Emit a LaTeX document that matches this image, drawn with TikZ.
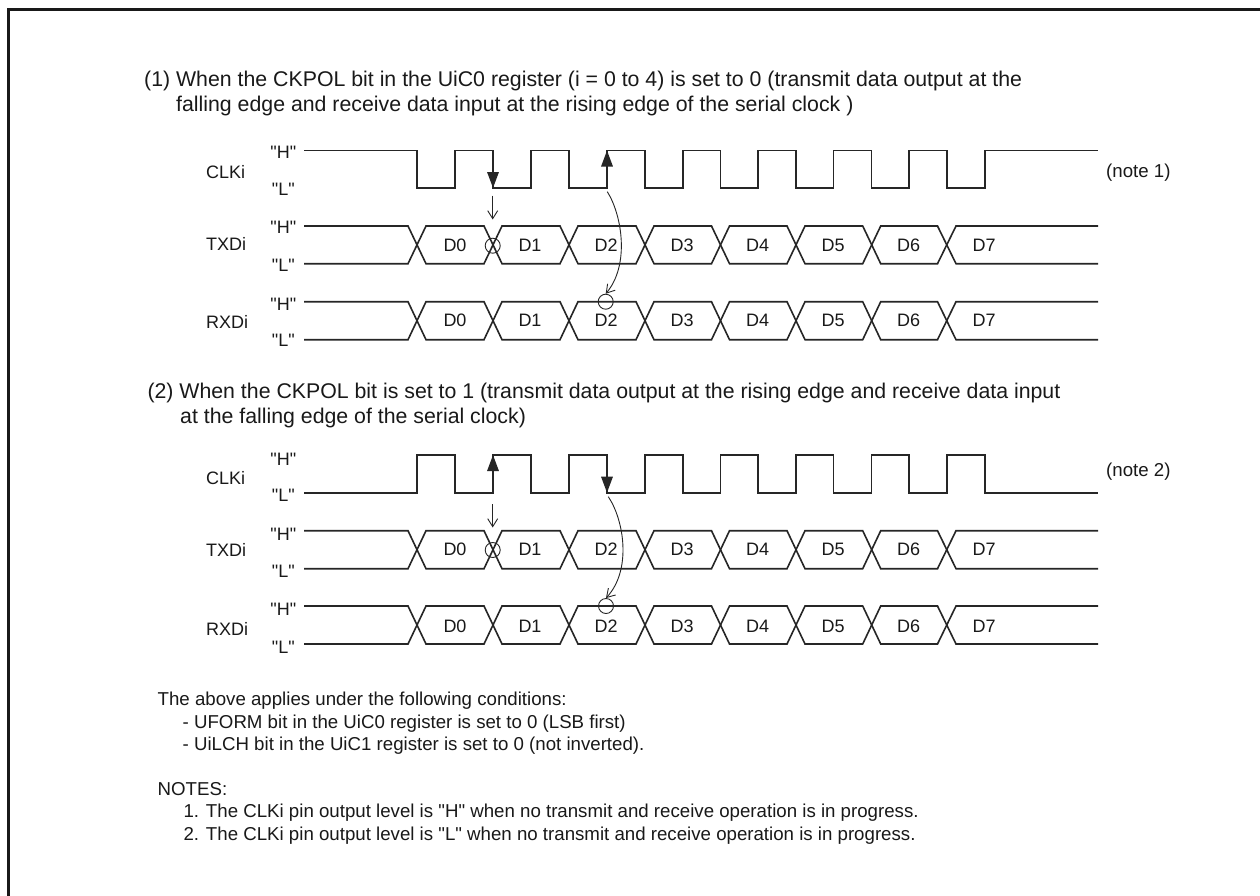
\documentclass[tikz,border=0pt]{standalone}
\usepackage{fontspec}
\newfontfamily\libf{Liberation Sans}
\usetikzlibrary{arrows.meta}
\tikzset{
  x=1pt,y=-1pt,
  sig/.style={line width=1.6pt,line join=miter,black!85},
  hair/.style={line width=0.9pt,black!85},
  txt/.style={inner sep=0pt,anchor=base west,font=\libf\fontsize{21.3}{24}\selectfont,text=black!90},
  sm/.style={inner sep=0pt,anchor=base,font=\libf\fontsize{18}{20}\selectfont,text=black!90},
  sname/.style={inner sep=0pt,anchor=base west,font=\libf\fontsize{18}{20}\selectfont,text=black!90},
  note/.style={inner sep=0pt,anchor=base west,font=\libf\fontsize{18.67}{20}\selectfont,text=black!90},
  thin arrow/.style={hair,-{Straight Barb[length=8pt,width=10pt,line width=0.9pt]}},
  bold tip/.style={line width=1.6pt,black!85,-{Triangle[length=16pt,width=11.5pt]}},
  ring/.style={draw,circle,hair,minimum size=15pt,inner sep=0pt},
}
% #1 = y H, #2 = y L, #3 = y text base, #4 name
\newcommand{\databus}[4]{%
  \draw[sig] (304,#1) -- (408,#1) -- (426,#2) -- (484,#2) -- (502,#1) -- (560,#1) -- (578,#2) -- (636,#2) -- (654,#1) -- (711.5,#1) -- (729.5,#2) -- (787,#2) -- (805,#1) -- (862.7,#1) -- (880.7,#2) -- (937.5,#2) -- (956,#1) -- (1098,#1);
  \draw[sig] (304,#2) -- (408,#2) -- (426,#1) -- (484,#1) -- (502,#2) -- (560,#2) -- (578,#1) -- (636,#1) -- (654,#2) -- (711.5,#2) -- (729.5,#1) -- (787,#1) -- (805,#2) -- (862.7,#2) -- (880.7,#1) -- (937.5,#1) -- (956,#2) -- (1098,#2);
  \foreach \t/\xx in {0/455,1/530,2/606,3/682,4/757.5,5/833,6/908.5,7/984}{
    \node[sm] (#4d\t) at (\xx,#3) {D\t};
  }
}
\begin{document}
\begin{tikzpicture}
\useasboundingbox (0,0) rectangle (1260,895);
\fill[white] (0,0) rectangle (1260,895);
\draw[line width=2.4pt,black!90] (8.5,900) -- (8.5,9.5) -- (1262,9.5);

\node[txt] (t1a) at (144,86.7) {(1) When the CKPOL bit in the UiC0 register (i = 0 to 4) is set to 0 (transmit data output at the};
\node[txt] (t1b) at (176,111.7) {falling edge and receive data input at the rising edge of the serial clock )};
\node[txt] (t2a) at (147.3,398) {(2) When the CKPOL bit is set to 1 (transmit data output at the rising edge and receive data input};
\node[txt] (t2b) at (180,423) {at the falling edge of the serial clock)};

% panel 1
\node[sm] (h1) at (283.3,158) {"H"};
\node[sm] (l1) at (283.3,195.5) {"L"};
\node[sm] (h2) at (283.3,233) {"H"};
\node[sm] (l2) at (283.3,271.5) {"L"};
\node[sm] (h3) at (283.3,310) {"H"};
\node[sm] (l3) at (283.3,346.7) {"L"};
\node[sname] (n1) at (206,178.3) {CLKi};
\node[sname] (n2) at (206,250.3) {TXDi};
\node[sname] (n3) at (206,328) {RXDi};
\node[note] (nt1) at (1106,177.3) {(note 1)};

\draw[sig] (304,150.5) -- (417,150.5) -- (417,188) -- (455,188) -- (455,150.5) -- (493,150.5) -- (493,188) -- (531,188) -- (531,150.5) -- (569,150.5) -- (569,188) -- (607,188) -- (607,150.5) -- (645,150.5) -- (645,188) -- (683,188) -- (683,150.5) -- (720.5,150.5) -- (720.5,188) -- (758,188) -- (758,150.5) -- (796,150.5) -- (796,188) -- (833.5,188) -- (833.5,150.5) -- (871.5,150.5) -- (871.5,188) -- (909,188) -- (909,150.5) -- (947,150.5) -- (947,188) -- (985,188) -- (985,150.5) -- (1098,150.5);
\databus{226}{263.7}{251}{a}
\databus{301.7}{339.7}{326.7}{b}

\coordinate (e1t) at (493,152);
\coordinate (e1b) at (493,188);
\coordinate (e2t) at (607,150.5);
\coordinate (e2b) at (607,188);
\draw[bold tip] (e1t) -- (e1b);
\draw[bold tip] (e2b) -- (e2t);
\coordinate (a1s) at (492.7,195.7);
\coordinate (a1e) at (492.7,219.5);
\draw[thin arrow] (a1s) -- (a1e);
\node[ring] (c1) at (492.7,245.7) {};
\node[ring] (c2) at (605.7,301.7) {};
\coordinate (a2s) at (607.3,191.7);
\draw[thin arrow] (a2s) .. controls (622,215) and (630,265) .. (c2.north);

% panel 2
\node[sm] (h4) at (283.3,465) {"H"};
\node[sm] (l4) at (283.3,501.7) {"L"};
\node[sm] (h5) at (283.3,540) {"H"};
\node[sm] (l5) at (283.3,577.3) {"L"};
\node[sm] (h6) at (283.3,615) {"H"};
\node[sm] (l6) at (283.3,653.3) {"L"};
\node[sname] (n4) at (206,484.3) {CLKi};
\node[sname] (n5) at (206,556.7) {TXDi};
\node[sname] (n6) at (206,635) {RXDi};
\node[note] (nt2) at (1106,476.7) {(note 2)};

\draw[sig] (304,492.7) -- (417,492.7) -- (417,455) -- (455,455) -- (455,492.7) -- (493,492.7) -- (493,455) -- (531,455) -- (531,492.7) -- (569,492.7) -- (569,455) -- (607,455) -- (607,492.7) -- (645,492.7) -- (645,455) -- (683,455) -- (683,492.7) -- (720.5,492.7) -- (720.5,455) -- (758,455) -- (758,492.7) -- (796,492.7) -- (796,455) -- (833.5,455) -- (833.5,492.7) -- (871.5,492.7) -- (871.5,455) -- (909,455) -- (909,492.7) -- (947,492.7) -- (947,455) -- (985,455) -- (985,492.7) -- (1098,492.7);
\databus{530.7}{568.7}{555.7}{c}
\databus{606}{644}{632.3}{d}

\coordinate (e3t) at (493,455);
\coordinate (e3b) at (493,492.7);
\coordinate (e4t) at (607,456);
\coordinate (e4b) at (607,492.7);
\draw[bold tip] (e3b) -- (e3t);
\draw[bold tip] (e4t) -- (e4b);
\coordinate (a3s) at (492.7,504);
\coordinate (a3e) at (492.7,527.5);
\draw[thin arrow] (a3s) -- (a3e);
\node[ring] (c3) at (492.7,550) {};
\node[ring] (c4) at (606,606) {};
\coordinate (a4s) at (608.3,496.7);
\draw[thin arrow] (a4s) .. controls (624,520) and (632,570) .. (c4.north);

% notes
\node[note] (b1) at (157.5,705) {The above applies under the following conditions:};
\node[note] (b2) at (182.5,728) {- UFORM bit in the UiC0 register is set to 0 (LSB first)};
\node[note] (b3) at (182.5,750) {- UiLCH bit in the UiC1 register is set to 0 (not inverted).};
\node[note] (b4) at (157.5,795) {NOTES:};
\node[note] (b5) at (183.3,817) {1. The CLKi pin output level is "H" when no transmit and receive operation is in progress.};
\node[note] (b6) at (183.3,840) {2. The CLKi pin output level is "L" when no transmit and receive operation is in progress.};
\end{tikzpicture}
\end{document}
